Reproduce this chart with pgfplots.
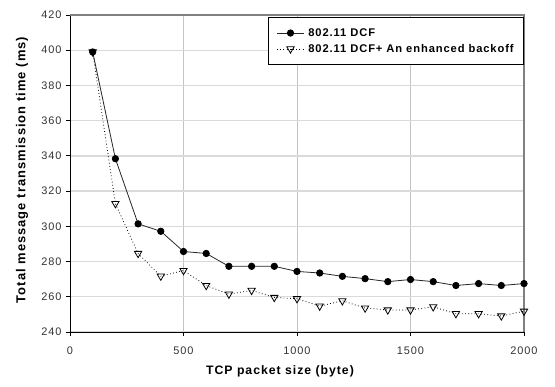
\documentclass[border=0pt]{standalone}
\usepackage{pgfplots}
\pgfplotsset{compat=1.18}
\usepackage{fontspec}
\setmainfont{Liberation Sans}
\newfontfamily\lsfont[LetterSpace=8]{Liberation Sans}
\newfontfamily\lgfont[LetterSpace=8]{Liberation Sans}
\definecolor{gridh}{HTML}{DADADA}
\definecolor{gridv}{HTML}{C4C4C4}
\definecolor{frame}{HTML}{808080}
\begin{document}
\begin{tikzpicture}
\begin{axis}[
  scale only axis,
  width=454bp, height=317bp,
  xmin=0, xmax=2000, ymin=240, ymax=420,
  xtick={0,500,...,2000}, ytick={240,260,...,420},
  xmajorgrids, ymajorgrids,
  x grid style={draw=gridv, line width=0.8bp},
  y grid style={draw=gridh, line width=1.4bp},
  axis x line*=bottom, axis y line*=left,
  tick align=outside,
  major tick length=4bp,
  tick style={black, line width=0.8bp},
  axis line style={black, line width=0.9bp},
  /pgf/number format/assume math mode=true,
  /pgf/number format/1000 sep={},
  tick label style={font=\lsfont\fontsize{11}{13}\selectfont, text=black!80},
  xticklabel style={yshift=-7bp},
  yticklabel style={xshift=-1bp},
  xlabel={\bfseries TCP packet size (byte)},
  ylabel={\bfseries Total message transmission time (ms)},
  xlabel style={font=\lsfont\fontsize{12.3}{14}\selectfont, at={(axis description cs:0.4626,0)}, anchor=center, yshift=-39bp},
  ylabel style={font=\lsfont\fontsize{13}{15}\selectfont, at={(axis description cs:0,0.511)}, anchor=center, yshift=48bp},
  legend style={at={(1,1)}, anchor=north east, yshift=-2bp, draw=black, line width=0.8bp,
    font=\lgfont\bfseries\fontsize{11.2}{13}\selectfont, inner xsep=8bp, inner ysep=9bp, row sep=2.5bp,
    column sep=2bp, cells={anchor=west}},
  legend cell align=left,
  legend image code/.code={\draw[mark repeat=2,mark phase=2,#1] plot coordinates {(0bp,0bp)(13.5bp,0bp)(27bp,0bp)};},
  clip=false,
]
\draw[frame, line width=1.2bp] (axis cs:0,420) -- (axis cs:2000,420) -- (axis cs:2000,240);
\addplot[black!85, line width=0.8bp, mark=*, mark size=3.2bp, mark options={black}] coordinates {
(100,399)(200,338.4)(300,301.4)(400,297.2)(500,285.7)(600,284.6)(700,277.3)(800,277.3)(900,277.3)(1000,274.4)
(1100,273.5)(1200,271.6)(1300,270.3)(1400,268.6)(1500,269.8)(1600,268.6)(1700,266.4)(1800,267.5)(1900,266.4)(2000,267.5)};
\addlegendentry{802.11 DCF}
\addplot[black, line width=0.8bp, dash pattern=on 0.8bp off 2.4bp, mark=triangle, mark options={solid, fill=white, rotate=180}, mark size=4.2bp] coordinates {
(100,399)(200,312.9)(300,284.6)(400,271.7)(500,274.9)(600,266.4)(700,261.5)(800,263.6)(900,259.6)(1000,258.9)
(1100,254.7)(1200,257.7)(1300,253.6)(1400,252.5)(1500,252.5)(1600,254.3)(1700,250.4)(1800,250.4)(1900,249.1)(2000,251.8)};
\addlegendentry{802.11 DCF+ An enhanced backoff\hspace{4bp}}
\end{axis}
\pgfresetboundingbox
\path[use as bounding box] ([shift={(-70bp,-55bp)}]current axis.south west) rectangle ([shift={(31bp,15bp)}]current axis.north east);
\end{tikzpicture}
\end{document}
